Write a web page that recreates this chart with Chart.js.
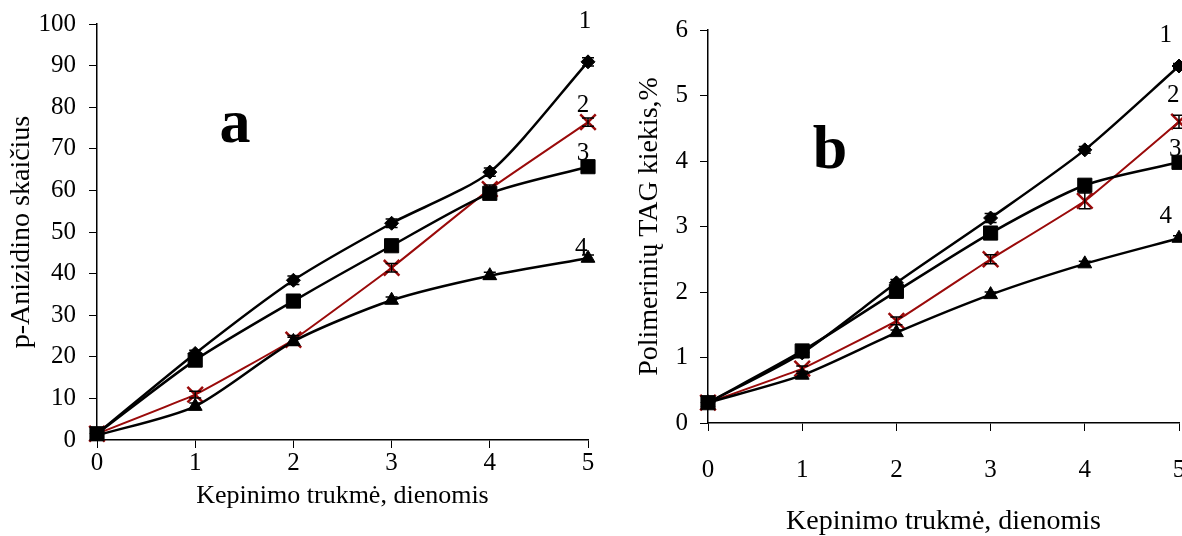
<!DOCTYPE html>
<html>
<head>
<meta charset="utf-8">
<script src="https://cdn.jsdelivr.net/npm/chart.js@4.4.1/dist/chart.umd.min.js"></script>
<style>
  html, body { margin: 0; padding: 0; background: #fff; }
  #wrap { position: relative; width: 1182px; height: 536px; overflow: hidden; }
  .box { position: absolute; top: 0; height: 536px; }
  #boxA { left: 0; width: 600px; }
  #boxB { left: 600px; width: 582px; }
</style>
</head>
<body>
<div id="wrap">
  <div class="box" id="boxA"><canvas id="chartA" width="600" height="536"></canvas></div>
  <div class="box" id="boxB"><canvas id="chartB" width="582" height="536"></canvas></div>
</div>
<script>
// ---- data ----
const days = [0, 1, 2, 3, 4, 5];

// Chart a: p-Anizidino skaičius
const a1 = [1.5, 20.8, 38.4, 52.1, 64.4, 90.9];
const a2 = [1.5, 10.9, 24.1, 41.4, 60.3, 76.4];
const a3 = [1.5, 19.2, 33.4, 46.7, 59.3, 65.7];
const a4 = [1.1, 8.1, 23.7, 33.6, 39.5, 43.7];
const aErr1 = [0.5, 0.8, 1.0, 1.0, 1.0, 1.0];
const aErr2 = [0.5, 0.8, 1.0, 1.0, 1.0, 1.0];
const aErr3 = [0.5, 0.8, 1.0, 1.0, 1.0, 1.0];
const aErr4 = [0.5, 0.8, 1.0, 0.8, 0.8, 0.8];
const aTicks = [0, 10, 20, 30, 40, 50, 60, 70, 80, 90, 100];

// Chart b: Polimerinių TAG kiekis, %
const b1 = [0.31, 1.07, 2.14, 3.13, 4.17, 5.45];
const b2 = [0.31, 0.83, 1.56, 2.50, 3.39, 4.60];
const b3 = [0.31, 1.10, 2.01, 2.90, 3.63, 3.98];
const b4 = [0.31, 0.73, 1.38, 1.96, 2.43, 2.82];
const bErr1 = [0.02, 0.03, 0.05, 0.07, 0.05, 0.04];
const bErr2 = [0.02, 0.04, 0.06, 0.07, 0.12, 0.10];
const bErr3 = [0.02, 0.04, 0.06, 0.08, 0.05, 0.08];
const bErr4 = [0.02, 0.03, 0.04, 0.04, 0.04, 0.04];
const bTicks = [0, 1, 2, 3, 4, 5, 6];

const seriesNames = ['1', '2', '3', '4'];

const FONT = 'Liberation Serif, Times New Roman, serif';
const RED = '#9a0a0a';

function makeDatasets(vals, errs) {
  const styles = [
    { color: '#000', shape: 'rectRot', r: 7, bw: 2.5 },
    { color: RED, shape: 'crossRot', r: 11, bw: 2 },
    { color: '#000', shape: 'rect', r: 10, bw: 2.5 },
    { color: '#000', shape: 'triangle', r: 8, bw: 2.5 }
  ];
  // draw order: 4,3,1,2 (red on top)
  const order = [3, 2, 0, 1];
  return order.map(i => ({
    label: seriesNames[i],
    data: vals[i],
    errors: errs[i],
    borderColor: styles[i].color,
    backgroundColor: styles[i].color,
    borderWidth: styles[i].bw,
    pointStyle: styles[i].shape,
    pointRadius: styles[i].r,
    pointBorderWidth: i === 1 ? 2.5 : 1,
    pointBorderColor: styles[i].color,
    pointBackgroundColor: styles[i].color,
    tension: i === 1 ? 0.1 : 0.25,
    clip: false
  }));
}

const errorBarPlugin = {
  id: 'errorBars',
  afterDatasetsDraw(chart) {
    const ctx = chart.ctx;
    const ys = chart.scales.y, xs = chart.scales.x;
    ctx.save();
    chart.data.datasets.forEach((ds) => {
      ctx.strokeStyle = '#000';
      ctx.lineWidth = 1.5;
      ds.data.forEach((v, j) => {
        const e = ds.errors[j];
        const x = xs.getPixelForValue(j);
        const y1 = ys.getPixelForValue(v + e);
        const y2 = ys.getPixelForValue(v - e);
        ctx.beginPath();
        ctx.moveTo(x, y1); ctx.lineTo(x, y2);
        ctx.moveTo(x - 6, y1); ctx.lineTo(x + 6, y1);
        ctx.moveTo(x - 6, y2); ctx.lineTo(x + 6, y2);
        ctx.stroke();
      });
    });
    ctx.restore();
  }
};

const annotPlugin = {
  id: 'annot',
  afterDraw(chart, args, opts) {
    const ctx = chart.ctx;
    const xs = chart.scales.x, ys = chart.scales.y;
    ctx.save();
    ctx.fillStyle = '#000';
    ctx.textAlign = 'center';
    ctx.textBaseline = 'middle';
    ctx.font = '25px ' + FONT;
    opts.numbers.forEach((p, k) => {
      const x = xs.getPixelForValue(0) + (xs.getPixelForValue(5) - xs.getPixelForValue(0)) * p[0] / 5;
      ctx.fillText(seriesNames[k], x, ys.getPixelForValue(p[1]));
    });
    ctx.font = 'bold 62px ' + FONT;
    ctx.textBaseline = 'alphabetic';
    ctx.fillText(opts.letter, opts.letterX, opts.letterY);
    ctx.restore();
  }
};

function makeChart(id, vals, errs, cfg) {
  return new Chart(document.getElementById(id), {
    type: 'line',
    data: { labels: days, datasets: makeDatasets(vals, errs) },
    options: {
      responsive: false,
      animation: false,
      events: [],
      layout: { autoPadding: false, padding: { top: cfg.padTop, right: cfg.padRight, bottom: cfg.padBottom, left: 0 } },
      plugins: {
        legend: { display: false },
        tooltip: { enabled: false },
        annot: { numbers: cfg.numbers, letter: cfg.letter, letterX: cfg.letterX, letterY: cfg.letterY }
      },
      scales: {
        x: {
          type: 'category',
          offset: false,
          grid: { display: true, drawOnChartArea: false, drawTicks: true, tickLength: 8, color: '#000', lineWidth: 1 },
          border: { display: true, color: '#000', width: 1.5 },
          ticks: { color: '#000', font: { family: FONT, size: 25, lineHeight: 1 }, padding: cfg.xTickPad, maxRotation: 0, autoSkip: false },
          title: { display: true, text: 'Kepinimo trukmė, dienomis', color: '#000', font: { family: FONT, size: cfg.xTitleSize, lineHeight: 1 }, padding: 0 },
          afterFit: s => { s.height = cfg.xHeight; s.paddingLeft = 0; s.paddingRight = 0; }
        },
        y: {
          type: 'linear',
          min: cfg.yTicks[0],
          max: cfg.yTicks[cfg.yTicks.length - 1],
          afterBuildTicks: s => { s.ticks = cfg.yTicks.map(v => ({ value: v })); },
          grid: { display: true, drawOnChartArea: false, drawTicks: true, tickLength: 8, color: '#000', lineWidth: 1 },
          border: { display: true, color: '#000', width: 1.5 },
          ticks: { color: '#000', font: { family: FONT, size: 25 }, padding: cfg.yTickPad },
          title: { display: true, text: cfg.yTitle, color: '#000', font: { family: FONT, size: 28, lineHeight: 1 }, padding: { top: cfg.yTitlePad, bottom: 0 } },
          afterFit: s => { s.width = cfg.yWidth; s.paddingTop = 0; s.paddingBottom = 0; }
        }
      }
    },
    plugins: [errorBarPlugin, annotPlugin]
  });
}

makeChart('chartA', [a1, a2, a3, a4], [aErr1, aErr2, aErr3, aErr4], {
  padTop: 24, padRight: 12, padBottom: 27, xHeight: 69, yWidth: 97,
  xTickPad: 3, yTickPad: 13, yTicks: aTicks, yTitlePad: 8, xTitleSize: 26,
  yTitle: 'p-Anizidino skaičius',
  numbers: [[4.97, 100.5], [4.95, 80.5], [4.95, 69], [4.93, 46]],
  letter: 'a', letterX: 235, letterY: 142
});

makeChart('chartB', [b1, b2, b3, b4], [bErr1, bErr2, bErr3, bErr4], {
  padTop: 30, padRight: 3, padBottom: 0, xHeight: 113, yWidth: 108,
  xTickPad: 27, yTickPad: 12, yTicks: bTicks, yTitlePad: 36, xTitleSize: 28,
  yTitle: 'Polimerinių TAG kiekis,%',
  numbers: [[4.86, 5.92], [4.94, 5.0], [4.96, 4.17], [4.86, 3.15]],
  letter: 'b', letterX: 230, letterY: 168
});
</script>
</body>
</html>
